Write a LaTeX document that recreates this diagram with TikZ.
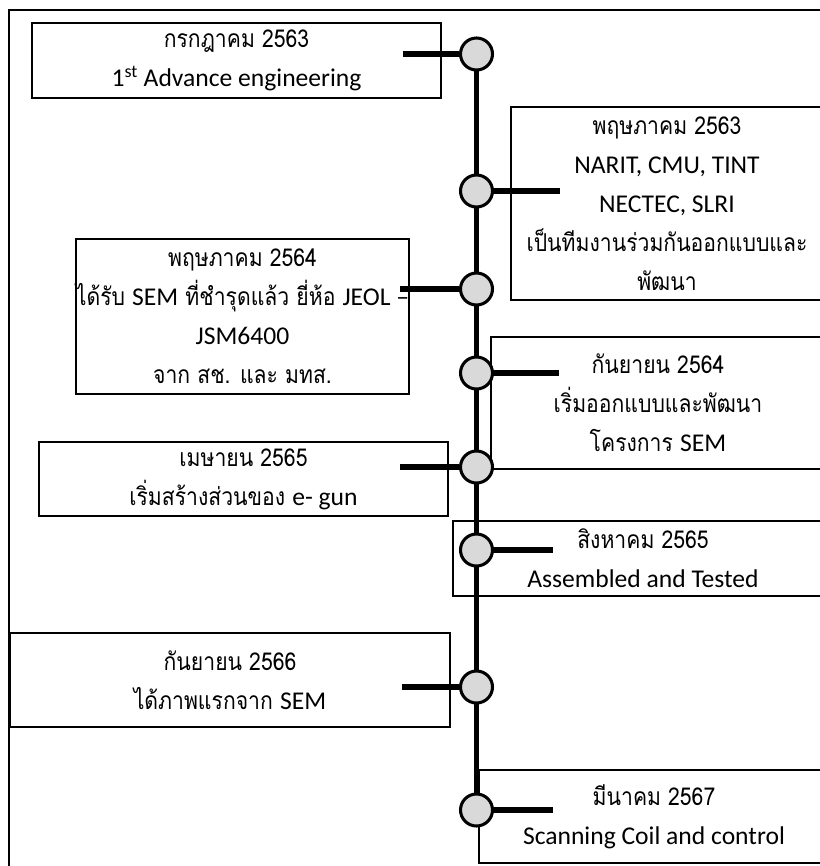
\documentclass[tikz,border=0pt]{standalone}
\usepackage{fontspec}
\setmainfont[Script=Thai,FakeStretch=0.86]{Loma}
\newfontfamily\en[Scale=1.04]{Carlito}
\usetikzlibrary{positioning,backgrounds}
\tikzset{dot/.style={circle,draw,line width=2.6pt,fill=black!15,minimum size=9.6mm,inner sep=0pt},
  evt/.style={rectangle,draw,line width=1.1pt,align=center,inner sep=0pt,font=\fontsize{21pt}{33.2pt}\selectfont},
  stem/.style={line width=4.3pt}}

\begin{document}
\begin{tikzpicture}[x=0.3mm,y=-0.3mm]
    \useasboundingbox (0,0) rectangle (820,866);
    \draw [line width=1.1pt] (9,880) -- (9,10) -- (830,10);

    \node[evt,minimum width=122.7mm,minimum height=22.5mm] (b1) at (236.5,60.5) {กรกฎาคม 2563\\{\en 1\textsuperscript{st} Advance engineering}};
    \node[evt,minimum width=93.6mm,minimum height=57.9mm] (b2) at (667,203.5) {พฤษภาคม 2563\\{\en NARIT, CMU, TINT}\\{\en NECTEC, SLRI}\\เป็นทีมงานร่วมกันออกแบบและ\\พัฒนา};
    \node[evt,minimum width=99.9mm,minimum height=46.5mm] (b3) at (242.5,316.5) {พฤษภาคม 2564\\ได้รับ {\en SEM} ที่ชำรุดแล้ว ยี่ห้อ {\en JEOL –}\\{\en JSM6400}\\จาก สช. และ มทส.};
    \node[evt,minimum width=100.2mm,minimum height=39.6mm] (b4) at (658,403) {กันยายน 2564\\เริ่มออกแบบและพัฒนา\\โครงการ {\en SEM}};
    \node[evt,minimum width=122.7mm,minimum height=22.2mm] (b5) at (243.5,479) {เมษายน 2565\\เริ่มสร้างส่วนของ {\en e- gun}};
    \node[evt,minimum width=114mm,minimum height=22.5mm] (b6) at (643,558.5) {สิงหาคม 2565\\{\en Assembled and Tested}};
    \node[evt,minimum width=132mm,minimum height=28.2mm] (b7) at (230,680) {กันยายน 2566\\ได้ภาพแรกจาก {\en SEM}};
    \node[evt,minimum width=105mm,minimum height=27.9mm] (b8) at (654,816.5) {มีนาคม 2567\\{\en Scanning Coil and control}};

    \node[dot] (c1) at (476.5,54) {};
    \node[dot] (c2) at (476.5,191) {};
    \node[dot] (c3) at (476.5,289) {};
    \node[dot] (c4) at (476.5,373) {};
    \node[dot] (c5) at (476.5,467) {};
    \node[dot] (c6) at (476.5,550) {};
    \node[dot] (c7) at (476.5,687) {};
    \node[dot] (c8) at (476.5,810) {};

    \coordinate (t1) at (403,54);
    \coordinate (t2) at (560,191);
    \coordinate (t3) at (400,289);
    \coordinate (t4) at (559,373);
    \coordinate (t5) at (400,467);
    \coordinate (t6) at (553,550);
    \coordinate (t7) at (402,687);
    \coordinate (t8) at (553,810);

    \begin{scope}[on background layer]
    \draw [stem] (c1.center) to [] (c8.center);
    \end{scope}
    \foreach \i in {1,...,8}
        \draw [stem] (c\i) to [] (t\i);
\end{tikzpicture}
\end{document}
